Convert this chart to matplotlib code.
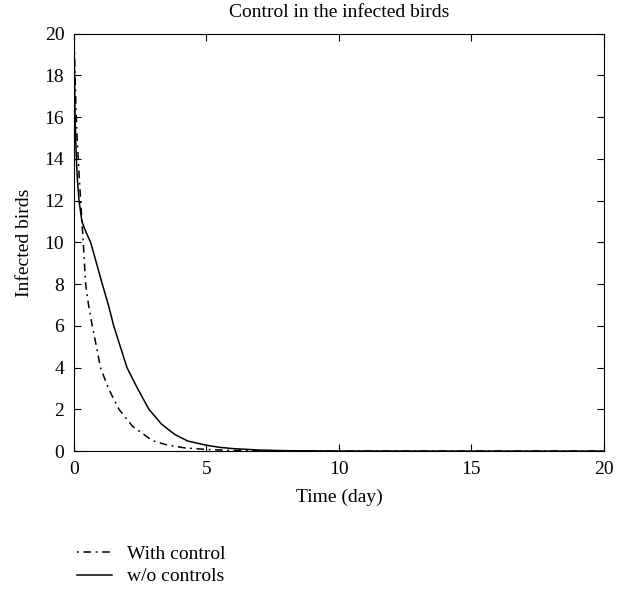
import matplotlib
matplotlib.use("Agg")
import matplotlib.pyplot as plt

plt.rcParams['font.family'] = ['Liberation Serif', 'DejaVu Serif']
plt.rcParams['font.size'] = 14

# infected birds with control
t_ctrl = [0, 0.05, 0.1, 0.16, 0.25, 0.35, 0.44, 0.55, 0.69, 0.85, 1.0, 1.3,
          1.7, 2.2, 2.96, 3.5, 4.2, 5, 6, 8, 10, 15, 20]
I_ctrl = [20, 17.5, 15.5, 14, 12, 10, 8, 7, 6, 5, 4, 3,
          2, 1.2, 0.5, 0.3, 0.15, 0.08, 0.03, 0.005, 0, 0, 0]

# infected birds without controls
t_free = [0, 0.04, 0.09, 0.13, 0.19, 0.3, 0.45, 0.63, 0.85, 1.07, 1.3, 1.5,
          1.75, 2.0, 2.4, 2.83, 3.3, 3.8, 4.3, 5, 5.5, 6, 7, 8, 10, 15, 20]
I_free = [20, 16, 14, 13, 12, 11, 10.5, 10, 9, 8, 7, 6,
          5, 4, 3, 2, 1.3, 0.8, 0.48, 0.28, 0.18, 0.12, 0.05, 0.02, 0.005, 0, 0]

fig = plt.figure(figsize=(6.27, 5.92), dpi=100)
ax = fig.add_axes([0.118, 0.238, 0.845, 0.705])

ax.plot(t_ctrl, I_ctrl, color='black', lw=1.1, dashes=(1.2, 3, 5, 3),
        label='With control')
ax.plot(t_free, I_free, color='black', lw=1.1, label='w/o controls')

ax.set_xlim(0, 20)
ax.set_ylim(0, 20)
ax.set_xticks([0, 5, 10, 15, 20])
ax.set_yticks(range(0, 21, 2))
ax.tick_params(direction='in', top=True, right=True, length=5, pad=7)
ax.set_xlabel('Time (day)', labelpad=8)
ax.set_ylabel('Infected birds', labelpad=8)
ax.set_title('Control in the infected birds', fontsize=14, pad=12)

fig.legend(loc='upper left', bbox_to_anchor=(0.110, 0.092), frameon=False,
           handlelength=1.8, handletextpad=0.8, labelspacing=0.25,
           borderaxespad=0)

fig.savefig('out.png', dpi=100)
